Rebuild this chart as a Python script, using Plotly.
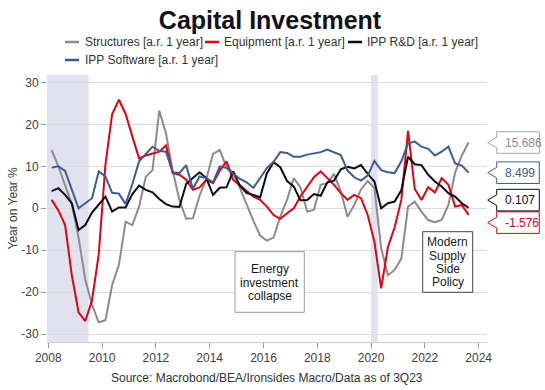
import plotly.graph_objects as go

# ---------------- data ----------------
quarters = [f"{y}Q{q}" for y in range(2008, 2024) for q in range(1, 5)][:63]

structures = [13.9, 10, 5.5, 1, -7, -17, -23, -27.2, -26.7, -18.3,
              -13.5, -3.2, -4, 0.4, 7.5, 9.1, 23.3, 17.9, 9, 2,
              -2.5, -2.4, 3, 7, 13, 13.9, 9.8, 8.5, 4.8, 0.8,
              -3, -6.5, -7.7, -7, -2, 2, 7.2, 5, -0.8, -0.4,
              5.6, 6, 8.2, 4, -2, 0.8, 4.5, 6.5, 4.8, -9.5,
              -16, -14.7, -12, 0.4, 1.6, -0.8, -2.8, -3.3, -2.8, 0.8,
              8.5, 12.6, 15.686]

equipment = [2, -0.5, -4, -16, -24.8, -26.9, -22, -11, 10.5, 22.5,
             25.9, 22.5, 17.1, 11.9, 12.6, 13, 13.5, 15, 8.4, 8,
             6.8, 4.4, 5, 6.8, 6, 9, 11.2, 6.8, 5.4, 4,
             2.8, 2, 0.4, -1.6, -2.5, -1.2, 0, 2.8, 5.2, 7.4,
             8.8, 7.2, 5.6, 3.6, 2, 3.2, 2.4, -1.6, -8, -19.1,
             -9.3, -4.6, 2, 18.5, 4.6, 2, 5, 3.8, 7.2, 5.6,
             0.4, 0.8, -1.576]

ipp_rd = [4.1, 4.8, 3.2, 1.2, -5.2, -4, -1, 0.8, 2.8, -0.8,
          0.2, 0.2, 3.4, 5.4, 4.4, 3.8, 2.2, 1, 0.4, 0.3,
          5.8, 7.2, 8.6, 7.2, 3.2, 4.9, 5, 8.8, 5.4, 3.6,
          3.2, 2.6, 8.3, 11, 9.8, 6.5, 5.2, 1.9, 2, 3.4,
          3, 6.2, 6.6, 9.3, 9.9, 9.5, 10.3, 8.2, 6.4, 0,
          1.2, 1.6, 4.3, 12.3, 10.5, 10.3, 8, 6.4, 5.2, 3.6,
          2.8, 1.2, 0.107]

ipp_software = [9.7, 10, 8.9, 4.6, 0, 1.2, 2.4, 8.8, 7.6, 3.7,
                3.5, 1, 5.8, 11.2, 13, 14.7, 13.7, 13.5, 8.6, 8.4,
                10.3, 4.6, 7.6, 7.2, 6.2, 10, 9.6, 8.4, 7, 6.2,
                4.9, 7.2, 9.6, 11.1, 13.4, 13.2, 12.3, 12.3, 12.8, 13.1,
                13.4, 14, 13.4, 12.7, 9, 7.4, 6.6, 7.8, 11.3, 9.1,
                8.6, 8.4, 11.2, 15.5, 15.9, 14.7, 14.2, 12.6, 13.5, 14.7,
                10.7, 10.2, 8.499]

series_names = ["Structures [a.r. 1 year]", "Equipment [a.r. 1 year]",
                "IPP R&D [a.r. 1 year]", "IPP Software [a.r. 1 year]"]
series_values = [structures, equipment, ipp_rd, ipp_software]

recessions = [(2007.9, 2009.5), (2020.0, 2020.25)]
x_ticks = [2008, 2010, 2012, 2014, 2016, 2018, 2020, 2022, 2024]
y_ticks = [-30, -20, -10, 0, 10, 20, 30]
y_ticktext = ["-30", "-20", "-10", "0", "10", "20", "30"]

title_text = "Capital Investment"
y_title = "Year on Year %"
source_text = "Source: Macrobond/BEA/Ironsides Macro/Data as of 3Q23"
note_energy_lines = ["Energy", "investment", "collapse"]
note_policy_lines = ["Modern", "Supply", "Side", "Policy"]

# ---------------- styles / geometry ----------------
colors = ["#8c8c8c", "#e6000f", "#0c0c18", "#3e5c93"]
box_border = ["#a8a8a8", "#e6000f", "#0c0c18", "#3e5c93"]
FONT = "Liberation Sans, Arial, sans-serif"
W, H = 545, 390
L, R, T, B = 47, 58, 75, 48
PW, PH = W - L - R, H - T - B
X_RANGE = [2007.952, 2024.31]
Y_RANGE = [-31.9, 31.8]
UPX = PH / (Y_RANGE[1] - Y_RANGE[0])   # pixels per y unit
XPX = PW / (X_RANGE[1] - X_RANGE[0])   # pixels per year


def px_x(X):
    return (X - L) / PW


def px_y(Y):
    return (H - B - Y) / PH


def dx(X):  # page pixel -> data x
    return X_RANGE[0] + (X - L) / XPX


def dy(Y):  # page pixel -> data y
    return Y_RANGE[1] - (Y - T) / UPX


def qx(label):
    yr, q = label.split("Q")
    return int(yr) + (int(q) - 0.5) / 4


x = [qx(s) for s in quarters]

fig = go.Figure()
for name, vals, col in zip(series_names, series_values, colors):
    fig.add_trace(go.Scatter(x=x, y=vals, mode="lines", name=name,
                             line=dict(color=col, width=2), showlegend=False))

shapes = []
for a, b in recessions:
    shapes.append(dict(type="rect", xref="x", yref="paper", x0=a, x1=b, y0=0, y1=1,
                       fillcolor="#e1e1f0", line=dict(width=0), layer="below"))

annotations = []

# manual legend
legend_items = [(0, 65, 83), (0, 205, 222), (0, 348, 365), (1, 65, 83)]
row_y = [42, 60]
for (row, lx, tx), name, col in zip(legend_items, series_names, colors):
    yy = px_y(row_y[row])
    shapes.append(dict(type="line", xref="paper", yref="paper",
                       x0=px_x(lx), x1=px_x(lx + 14), y0=yy, y1=yy,
                       line=dict(color=col, width=2.5)))
    annotations.append(dict(xref="paper", yref="paper", x=px_x(tx), y=yy,
                            xanchor="left", yanchor="middle", showarrow=False,
                            text=name.replace("&", "&amp;"),
                            font=dict(family=FONT, size=12, color="#333333")))

# last-value callouts (de-overlapped)
last_vals = [v[-1] for v in series_values]
order = sorted(range(len(last_vals)), key=lambda i: -last_vals[i])
pos = {i: last_vals[i] for i in order}
min_sep = 22.5 / UPX
for _ in range(50):
    for a_i, b_i in zip(order[:-1], order[1:]):
        gap = pos[a_i] - pos[b_i]
        if gap < min_sep:
            d = (min_sep - gap) / 2
            pos[a_i] += d
            pos[b_i] -= d
hh = 10.8 / UPX
ph = 5.3 / UPX
tipx, blx, brx = px_x(487.7), px_x(496.7), px_x(539.3)
for i, (vals, col, bcol) in enumerate(zip(series_values, colors, box_border)):
    yc = pos[i]
    path = (f"M {tipx},{yc} L {blx},{yc + ph} L {blx},{yc + hh} L {brx},{yc + hh} "
            f"L {brx},{yc - hh} L {blx},{yc - hh} L {blx},{yc - ph} Z")
    shapes.append(dict(type="path", xref="paper", yref="y", path=path,
                       fillcolor="white", line=dict(color=bcol, width=1)))
    annotations.append(dict(xref="paper", yref="y", x=px_x(502.5), y=yc,
                            xanchor="left", yanchor="middle", showarrow=False,
                            text=f"{vals[-1]:.3f}",
                            font=dict(family=FONT, size=12, color=col)))


# note boxes: rect + one annotation per line (tighter line spacing)
def note(lines, x0, x1, y0, y1, first_line_y, spacing, border):
    shapes.append(dict(type="rect", xref="x", yref="y", x0=dx(x0), x1=dx(x1),
                       y0=dy(y1), y1=dy(y0), fillcolor="white",
                       line=dict(color=border, width=1), layer="above"))
    for k, t in enumerate(lines):
        annotations.append(dict(xref="x", yref="y", x=dx((x0 + x1) / 2),
                                y=dy(first_line_y + k * spacing), text=t,
                                showarrow=False, xanchor="center", yanchor="middle",
                                font=dict(family=FONT, size=12, color="#1a1a1a")))


note(note_energy_lines, 235, 304.3, 251.7, 312.3, 269, 13.5, "#9a9a9a")
note(note_policy_lines, 422.7, 472.7, 231.7, 292.3, 242.3, 13.3, "#444444")

# axis title and source
annotations.append(dict(xref="paper", yref="paper", x=px_x(12), y=0.5, text=y_title,
                        textangle=-90, showarrow=False, xanchor="center", yanchor="middle",
                        font=dict(family=FONT, size=12, color="#404040")))
annotations.append(dict(xref="paper", yref="paper", x=px_x(267), y=px_y(378),
                        text=source_text, showarrow=False, xanchor="center", yanchor="middle",
                        font=dict(family=FONT, size=12, color="#333333")))

fig.update_layout(
    width=W, height=H,
    margin=dict(l=L, r=R, t=T, b=B, pad=0),
    paper_bgcolor="white", plot_bgcolor="white",
    title=dict(text=title_text, x=270 / W, xref="container", xanchor="center",
               y=1 - 20 / H, yref="container", yanchor="middle",
               font=dict(family=FONT, size=25, color="#111118", weight="bold")),
    showlegend=False,
    hovermode=False,
    shapes=shapes, annotations=annotations,
    xaxis=dict(range=X_RANGE, tickvals=x_ticks, ticks="outside", ticklen=5,
               tickcolor="#9a9a9a", showgrid=False, zeroline=False,
               showline=True, linecolor="#d0d0d0", linewidth=1,
               tickfont=dict(family=FONT, size=12, color="#404040")),
    yaxis=dict(range=Y_RANGE, tickvals=y_ticks, ticktext=y_ticktext, ticks="outside",
               ticklen=5, tickcolor="#9a9a9a", showgrid=True, gridcolor="#dcdcdc",
               gridwidth=1, zeroline=False, showline=False,
               tickfont=dict(family=FONT, size=12, color="#404040")),
)

fig.write_html("out.html",
               config={"displayModeBar": False, "staticPlot": True},
               post_script="document.body.style.margin='0';"
                           "document.body.style.overflow='hidden';")
